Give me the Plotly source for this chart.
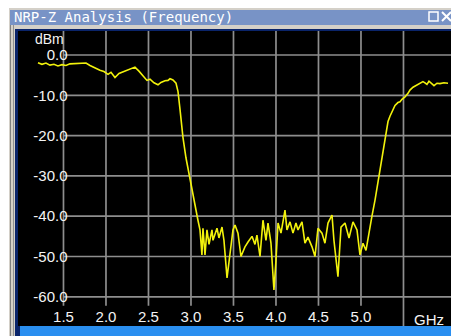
"""NRP-Z 频率分析曲线：复刻仪器窗口截图"""

import plotly.graph_objects as go

# 频率 (GHz) 与功率 (dBm)，从截图读数
freq_ghz = [
    1.200, 1.247, 1.294, 1.341, 1.388, 1.435, 1.482, 1.529, 1.576, 1.647,
    1.718, 1.765, 1.812, 1.871, 1.929, 1.976, 2.024, 2.059, 2.106, 2.153,
    2.200, 2.259, 2.306, 2.341, 2.388, 2.435, 2.482, 2.518, 2.565, 2.612,
    2.647, 2.694, 2.729, 2.753, 2.788, 2.824, 2.847, 2.871, 2.906, 2.941,
    2.988, 3.047, 3.082, 3.106, 3.129, 3.141, 3.165, 3.188, 3.212, 3.247,
    3.259, 3.306, 3.329, 3.365, 3.388, 3.424, 3.459, 3.494, 3.518, 3.553,
    3.588, 3.635, 3.671, 3.718, 3.753, 3.776, 3.812, 3.847, 3.882, 3.906,
    3.941, 3.976, 4.000, 4.024, 4.059, 4.082, 4.106, 4.129, 4.165, 4.200,
    4.235, 4.259, 4.306, 4.341, 4.376, 4.424, 4.459, 4.494, 4.541, 4.576,
    4.612, 4.659, 4.682, 4.729, 4.765, 4.812, 4.859, 4.906, 4.953, 4.988,
    5.024, 5.059, 5.094, 5.129, 5.165, 5.200, 5.224, 5.259, 5.282, 5.318,
    5.341, 5.376, 5.400, 5.435, 5.459, 5.482, 5.518, 5.553, 5.576, 5.612,
    5.659, 5.694, 5.729, 5.753, 5.776, 5.800, 5.835, 5.859, 5.894, 5.929,
    5.976, 6.024,
]
level_dbm = [
    -1.9, -2.3, -2.0, -2.5, -2.3, -2.7, -2.4, -2.6, -2.2, -2.1,
    -1.9, -2.0, -2.6, -3.3, -3.8, -4.1, -4.8, -4.3, -5.6, -4.6,
    -4.2, -3.8, -3.3, -3.0, -4.0, -5.2, -6.3, -6.0, -6.9, -7.4,
    -6.8, -6.4, -6.3, -5.9, -6.2, -7.0, -9.0, -13.5, -20.5, -25.5,
    -31.0, -37.7, -41.0, -43.4, -49.6, -43.0, -49.6, -43.4, -47.0, -43.4,
    -46.0, -43.0, -45.4, -42.7, -46.0, -55.3, -49.0, -43.4, -42.2, -44.2,
    -50.0, -47.6, -46.4, -45.0, -47.0, -44.7, -50.0, -41.0, -46.0, -41.7,
    -46.7, -58.3, -51.0, -41.7, -44.2, -41.0, -38.5, -43.4, -41.4, -44.2,
    -41.7, -43.4, -41.4, -46.7, -45.2, -47.6, -50.0, -43.0, -44.2, -46.7,
    -41.7, -39.7, -46.0, -55.0, -42.7, -41.7, -45.4, -41.4, -43.4, -49.6,
    -46.7, -48.5, -44.0, -40.0, -36.0, -31.5, -28.5, -23.0, -20.0, -16.5,
    -15.2, -13.5, -12.5, -11.8, -11.6, -11.0, -10.4, -9.5, -8.7, -8.0,
    -7.4, -7.0, -6.6, -6.9, -7.3, -6.5, -7.2, -7.6, -7.0, -7.1,
    -6.9, -7.0,
]

x_tick_vals = [1.5, 2.0, 2.5, 3.0, 3.5, 4.0, 4.5, 5.0]
x_tick_text = ["1.5", "2.0", "2.5", "3.0", "3.5", "4.0", "4.5", "5.0"]
x_grid_vals = [1.5, 2.0, 2.5, 3.0, 3.5, 4.0, 4.5, 5.0, 5.5]
y_tick_vals = [0, -10, -20, -30, -40, -50, -60]
y_tick_text = ["0.0", "-10.0", "-20.0", "-30.0", "-40.0", "-50.0", "-60.0"]

W, H = 451, 336
L, T, B = 18, 31, 10          # 黑色绘图区边距
X_RANGE = [0.965, 6.059]
Y_RANGE = [-67.25, 5.96]
LABEL_FONT = dict(family="Liberation Sans, Arial", size=15, color="#f4f4f4")
GRID = dict(color="#8e8e8e", width=1.7)


def px(x):
    """像素 x -> paper 坐标"""
    return (x - L) / (W - L)


def py(y):
    """像素 y -> paper 坐标"""
    return (H - B - y) / (H - B - T)


def rect(x0, y0, x1, y1, color):
    return dict(type="rect", xref="paper", yref="paper",
                x0=px(x0), x1=px(x1), y0=py(y0), y1=py(y1),
                fillcolor=color, line_width=0, layer="below")


fig = go.Figure()
fig.add_trace(go.Scatter(
    x=freq_ghz, y=level_dbm, mode="lines",
    line=dict(color="#f2f20c", width=1.6),
    hoverinfo="skip", showlegend=False,
))

shapes = []
# 窗口边框与标题栏（只画在绘图区外）
shapes.append(rect(9, 8, 15, H, "#d4d0c8"))
shapes.append(rect(9, 8, W, 29, "#d4d0c8"))
shapes.append(rect(10, 10, W, 25, "#7893c6"))
shapes.append(rect(10, 25, 11, H, "#808080"))
shapes.append(rect(13, 25, 14, H, "#909090"))
shapes.append(rect(15, 29, L, H - B, "#0a246a"))
shapes.append(rect(15, 29, W, T, "#0a246a"))
shapes.append(rect(15, H - B, 20, H, "#0a246a"))
shapes.append(rect(20, H - B, W, H, "#2a8ff0"))
# 标题栏按钮
shapes.append(dict(type="rect", xref="paper", yref="paper",
                   x0=px(429), x1=px(438), y0=py(12), y1=py(21),
                   line=dict(color="#ffffff", width=1.5)))
shapes.append(dict(type="line", xref="paper", yref="paper",
                   x0=px(442), x1=px(451), y0=py(12), y1=py(21),
                   line=dict(color="#ffffff", width=2)))
shapes.append(dict(type="line", xref="paper", yref="paper",
                   x0=px(442), x1=px(451), y0=py(21), y1=py(12),
                   line=dict(color="#ffffff", width=2)))

# 网格线
for v in y_tick_vals:
    shapes.append(dict(type="line", xref="x", yref="y", layer="below",
                       x0=1.5, x1=X_RANGE[1], y0=v, y1=v, line=GRID))
for v in x_grid_vals:
    bottom = Y_RANGE[0] if v == 5.5 else -62.2
    shapes.append(dict(type="line", xref="x", yref="y", layer="below",
                       x0=v, x1=v, y0=bottom, y1=Y_RANGE[1], line=GRID))

annotations = [
    dict(text="NRP-Z Analysis (Frequency)", xref="paper", yref="paper",
         x=px(12), y=py(17.5), xanchor="left", yanchor="middle",
         showarrow=False,
         font=dict(family="DejaVu Sans Mono", size=14, color="#ffffff")),
    dict(text="dBm", xref="paper", yref="paper", x=px(66), y=py(38.5),
         xanchor="right", yanchor="middle", showarrow=False,
         font=dict(LABEL_FONT, size=14)),
    dict(text="GHz", xref="paper", yref="paper", x=px(446), y=py(319.5),
         xanchor="right", yanchor="middle", showarrow=False, font=LABEL_FONT),
]

fig.update_layout(
    width=W, height=H,
    margin=dict(l=L, r=0, t=T, b=B, pad=0),
    paper_bgcolor="#ffffff",
    plot_bgcolor="#000000",
    shapes=shapes,
    annotations=annotations,
    xaxis=dict(range=X_RANGE, tickvals=x_tick_vals, ticktext=x_tick_text,
               showgrid=False, zeroline=False, showline=False, ticks="",
               anchor="free", position=py(306), automargin=False,
               tickfont=LABEL_FONT, fixedrange=True),
    yaxis=dict(range=Y_RANGE, tickvals=y_tick_vals, ticktext=y_tick_text,
               showgrid=False, zeroline=False, showline=False, ticks="",
               anchor="free", position=px(67.5), automargin=False,
               tickfont=LABEL_FONT, fixedrange=True),
)

fig.write_html("out.html", config={"displayModeBar": False},
               post_script="document.body.style.margin='0';")
